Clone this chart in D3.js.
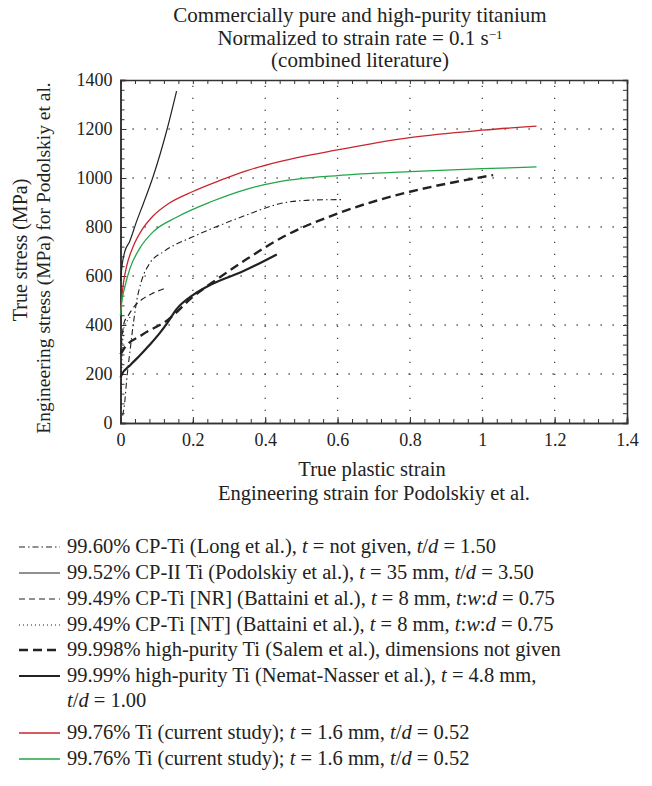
<!DOCTYPE html>
<html>
<head>
<meta charset="utf-8">
<script src="https://cdn.jsdelivr.net/npm/d3@7"></script>
<style>
  body { margin: 0; background: #fff; }
  svg text { font-family: "Liberation Serif", "DejaVu Serif", serif; fill: #222; }
</style>
</head>
<body>
<svg width="652" height="786"></svg>
<script>
// stress-strain curves ([strain, stress MPa])
var longData = [[0.006,30],[0.012,90],[0.017,175],[0.026,290],[0.035,400],[0.045,500],[0.058,580],[0.08,650],[0.12,700],[0.2,760],[0.28,810],[0.35,850],[0.44,895],[0.53,910],[0.615,912]];
var podolskiyData = [[0,580],[0.005,650],[0.012,700],[0.025,740],[0.045,825],[0.063,895],[0.09,1005],[0.11,1100],[0.128,1195],[0.155,1355]];
var nrData = [[0,280],[0.005,360],[0.01,410],[0.022,440],[0.035,470],[0.06,505],[0.09,530],[0.123,550]];
var ntData = [[0.001,60],[0.003,200],[0.006,320],[0.01,390],[0.02,420],[0.03,435]];
var salemData = [[0,280],[0.008,300],[0.06,360],[0.13,420],[0.2,515],[0.27,590],[0.35,670],[0.45,760],[0.6,855],[0.8,944],[0.93,985],[1.03,1012]];
var nematData = [[0,185],[0.003,196],[0.026,235],[0.05,270],[0.08,318],[0.11,370],[0.13,410],[0.155,465],[0.2,522],[0.25,565],[0.34,620],[0.432,688]];
var redData = [[0,440],[0.003,500],[0.008,570],[0.017,640],[0.035,720],[0.06,790],[0.09,845],[0.13,893],[0.2,945],[0.275,990],[0.35,1030],[0.44,1067],[0.6,1115],[0.8,1165],[1.0,1195],[1.15,1212]];
var greenData = [[0,440],[0.004,500],[0.012,556],[0.026,630],[0.054,715],[0.09,780],[0.155,840],[0.25,903],[0.35,955],[0.44,985],[0.6,1010],[0.8,1026],[1.0,1038],[1.15,1045]];

var xTicks = [0, 0.2, 0.4, 0.6, 0.8, 1, 1.2, 1.4];
var yTicks = [0, 200, 400, 600, 800, 1000, 1200, 1400];

var titleLines = ["Commercially pure and high-purity titanium", "Normalized to strain rate = 0.1 s", "(combined literature)"];

// legend labels, segments flagged 1 are italic
var legendLabels = [
  [["99.60% CP-Ti (Long et al.), "],["t",1],[" = not given, "],["t",1],["/"],["d",1],[" = 1.50"]],
  [["99.52% CP-II Ti (Podolskiy et al.), "],["t",1],[" = 35 mm, "],["t",1],["/"],["d",1],[" = 3.50"]],
  [["99.49% CP-Ti [NR] (Battaini et al.), "],["t",1],[" = 8 mm, "],["t",1],[":"],["w",1],[":"],["d",1],[" = 0.75"]],
  [["99.49% CP-Ti [NT] (Battaini et al.), "],["t",1],[" = 8 mm, "],["t",1],[":"],["w",1],[":"],["d",1],[" = 0.75"]],
  [["99.998% high-purity Ti (Salem et al.), dimensions not given"]],
  [["99.99% high-purity Ti (Nemat-Nasser et al.), "],["t",1],[" = 4.8 mm,"]],
  [["99.76% Ti (current study); "],["t",1],[" = 1.6 mm, "],["t",1],["/"],["d",1],[" = 0.52"]],
  [["99.76% Ti (current study); "],["t",1],[" = 1.6 mm, "],["t",1],["/"],["d",1],[" = 0.52"]]
];

var series = [
  {data: longData, color: "#222", width: 1.1, dash: "6,3,1.5,3"},
  {data: podolskiyData, color: "#222", width: 1.2, dash: null},
  {data: nrData, color: "#222", width: 1.2, dash: "6,4"},
  {data: ntData, color: "#222", width: 1.1, dash: "1,3"},
  {data: salemData, color: "#222", width: 2.4, dash: "9,5"},
  {data: nematData, color: "#222", width: 2.2, dash: null},
  {data: redData, color: "#c8262e", width: 1.3, dash: null},
  {data: greenData, color: "#22a548", width: 1.3, dash: null}
];

var svg = d3.select("svg");
var pLeft = 120.5, pRight = 627, pTop = 80, pBottom = 423;

var x = d3.scaleLinear().domain([0, 1.4]).range([pLeft, pRight]);
var y = d3.scaleLinear().domain([0, 1400]).range([pBottom, pTop]);

// dotted grid
var grid = svg.append("g").attr("stroke", "#444").attr("stroke-width", 1.3).attr("stroke-dasharray", "1.3,10.7");
grid.selectAll(".gx").data(xTicks.slice(1, -1)).enter().append("line")
    .attr("x1", d => x(d)).attr("x2", d => x(d)).attr("y1", pBottom).attr("y2", pTop);
grid.selectAll(".gy").data(yTicks.slice(1, -1)).enter().append("line")
    .attr("y1", d => y(d)).attr("y2", d => y(d)).attr("x1", pLeft).attr("x2", pRight);

// axes with inward ticks
var minorX = d3.range(0, 1.4001, 0.04);
var minorY = d3.range(0, 1400.1, 40);

svg.append("g").attr("transform", "translate(0," + pBottom + ")")
    .call(d3.axisBottom(x).tickValues(minorX).tickSize(-4).tickFormat(""));
svg.append("g").attr("transform", "translate(0," + pBottom + ")")
    .call(d3.axisBottom(x).tickValues(xTicks).tickSize(-6).tickPadding(10).tickFormat(d => d));
svg.append("g").attr("transform", "translate(" + pLeft + ",0)")
    .call(d3.axisLeft(y).tickValues(minorY).tickSize(-4).tickFormat(""));
svg.append("g").attr("transform", "translate(" + pLeft + ",0)")
    .call(d3.axisLeft(y).tickValues(yTicks).tickSize(-6).tickPadding(8).tickFormat(d => d));
svg.append("g").attr("transform", "translate(0," + pTop + ")")
    .call(d3.axisTop(x).tickValues(minorX).tickSize(-4).tickFormat(""));
svg.append("g").attr("transform", "translate(" + pRight + ",0)")
    .call(d3.axisRight(y).tickValues(minorY).tickSize(-4).tickFormat(""));

svg.selectAll(".domain").attr("stroke", "#333").attr("stroke-width", 1.6);
svg.selectAll(".tick line").attr("stroke", "#333").attr("stroke-width", 1);
svg.selectAll(".tick text").attr("font-size", 18).attr("font-family", "Liberation Serif").attr("fill", "#222");

// curves
var line = d3.line().x(d => x(d[0])).y(d => y(d[1])).curve(d3.curveMonotoneX);
svg.append("g").selectAll("path").data(series).enter().append("path")
    .attr("d", d => line(d.data))
    .attr("fill", "none")
    .attr("stroke", d => d.color)
    .attr("stroke-width", d => d.width)
    .attr("stroke-dasharray", d => d.dash);

// title
var title = svg.append("g").attr("text-anchor", "middle").attr("font-size", 21);
title.append("text").attr("x", 360).attr("y", 22).text(titleLines[0]);
var t2 = title.append("text").attr("x", 360).attr("y", 45).text(titleLines[1]);
t2.append("tspan").attr("dy", -6).attr("font-size", 13).text("−1");
title.append("text").attr("x", 360).attr("y", 67).text(titleLines[2]);

// axis titles
svg.append("text").attr("text-anchor", "middle").attr("font-size", 20)
    .attr("transform", "translate(27,250) rotate(-90)").text("True stress (MPa)");
svg.append("text").attr("text-anchor", "middle").attr("font-size", 19.5)
    .attr("transform", "translate(50,258) rotate(-90)").text("Engineering stress (MPa) for Podolskiy et al.");
svg.append("text").attr("text-anchor", "middle").attr("font-size", 20.5)
    .attr("x", 372).attr("y", 476).text("True plastic strain");
svg.append("text").attr("text-anchor", "middle").attr("font-size", 20.5)
    .attr("x", 374).attr("y", 500).text("Engineering strain for Podolskiy et al.");

// legend
var fs = 20.5;
var rowY = [553, 579, 605, 631, 656, 682, 739, 765];
var legend = svg.append("g");
series.forEach(function(s, i){
  legend.append("line")
    .attr("x1", 19).attr("x2", 60).attr("y1", rowY[i] - 6).attr("y2", rowY[i] - 6)
    .attr("stroke", s.color).attr("stroke-width", s.width).attr("stroke-dasharray", s.dash);
  var txt = legend.append("text").attr("x", 67).attr("y", rowY[i]).attr("font-size", fs);
  legendLabels[i].forEach(function(seg){
    txt.append("tspan").attr("font-style", seg[1] ? "italic" : null).text(seg[0]);
  });
});
var extra = legend.append("text").attr("x", 67).attr("y", 707).attr("font-size", fs);
extra.append("tspan").attr("font-style", "italic").text("t");
extra.append("tspan").text("/");
extra.append("tspan").attr("font-style", "italic").text("d");
extra.append("tspan").text(" = 1.00");
</script>
</body>
</html>
